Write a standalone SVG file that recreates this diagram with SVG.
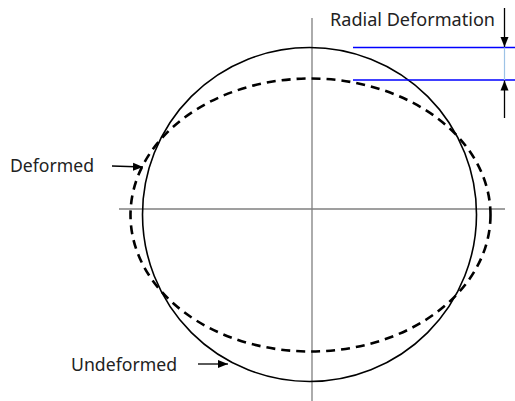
<svg xmlns="http://www.w3.org/2000/svg" width="515" height="401" viewBox="0 0 515 401">
<style>
.lbl{font-family:"Noto Sans","Open Sans","Liberation Sans",sans-serif;font-size:18px;fill:#222}
.axis{stroke:#7f7f7f;stroke-width:1.3;fill:none}
.blue{stroke:#0000ff;stroke-width:1.5}
.arr{stroke:#000;stroke-width:1.3;fill:none}
</style>
<defs>
<marker id="ah" viewBox="0 0 10 10" refX="10" refY="5" markerWidth="10" markerHeight="10" markerUnits="userSpaceOnUse" orient="auto">
<path d="M0,1 L10,5 L0,9 Z" fill="#000"/>
</marker>
</defs>
<g id="axes">
<line class="axis" x1="312" y1="18" x2="312" y2="401"/>
<line class="axis" x1="119" y1="209" x2="505" y2="209"/>
</g>
<g id="undeformed-circle">
<circle cx="309.5" cy="214.5" r="167" fill="none" stroke="#000" stroke-width="1.6"/>
</g>
<g id="deformed-ellipse">
<ellipse cx="310.5" cy="215" rx="180" ry="136.5" fill="none" stroke="#000" stroke-width="2.6" stroke-dasharray="9,6"/>
</g>
<g id="radial-deformation">
<line class="blue" x1="353" y1="47.5" x2="515" y2="47.5"/>
<line class="blue" x1="353" y1="80" x2="515" y2="80"/>
<line x1="504.5" y1="47.5" x2="504.5" y2="80" stroke="#9dc3e6" stroke-width="1.2"/>
<text class="lbl" x="330" y="26" textLength="165" lengthAdjust="spacingAndGlyphs">Radial Deformation</text>
</g>
<g id="connectors">
<line class="arr" x1="504.5" y1="8" x2="504.5" y2="47" marker-end="url(#ah)"/>
<line class="arr" x1="504.5" y1="118" x2="504.5" y2="80.5" marker-end="url(#ah)"/>
<line class="arr" x1="112" y1="166" x2="143" y2="167" marker-end="url(#ah)"/>
<line class="arr" x1="198" y1="364" x2="228" y2="364" marker-end="url(#ah)"/>
</g>
<g id="label-deformed">
<text class="lbl" x="10" y="172" textLength="84" lengthAdjust="spacingAndGlyphs">Deformed</text>
</g>
<g id="label-undeformed">
<text class="lbl" x="71" y="371" textLength="106" lengthAdjust="spacingAndGlyphs">Undeformed</text>
</g>
</svg>
